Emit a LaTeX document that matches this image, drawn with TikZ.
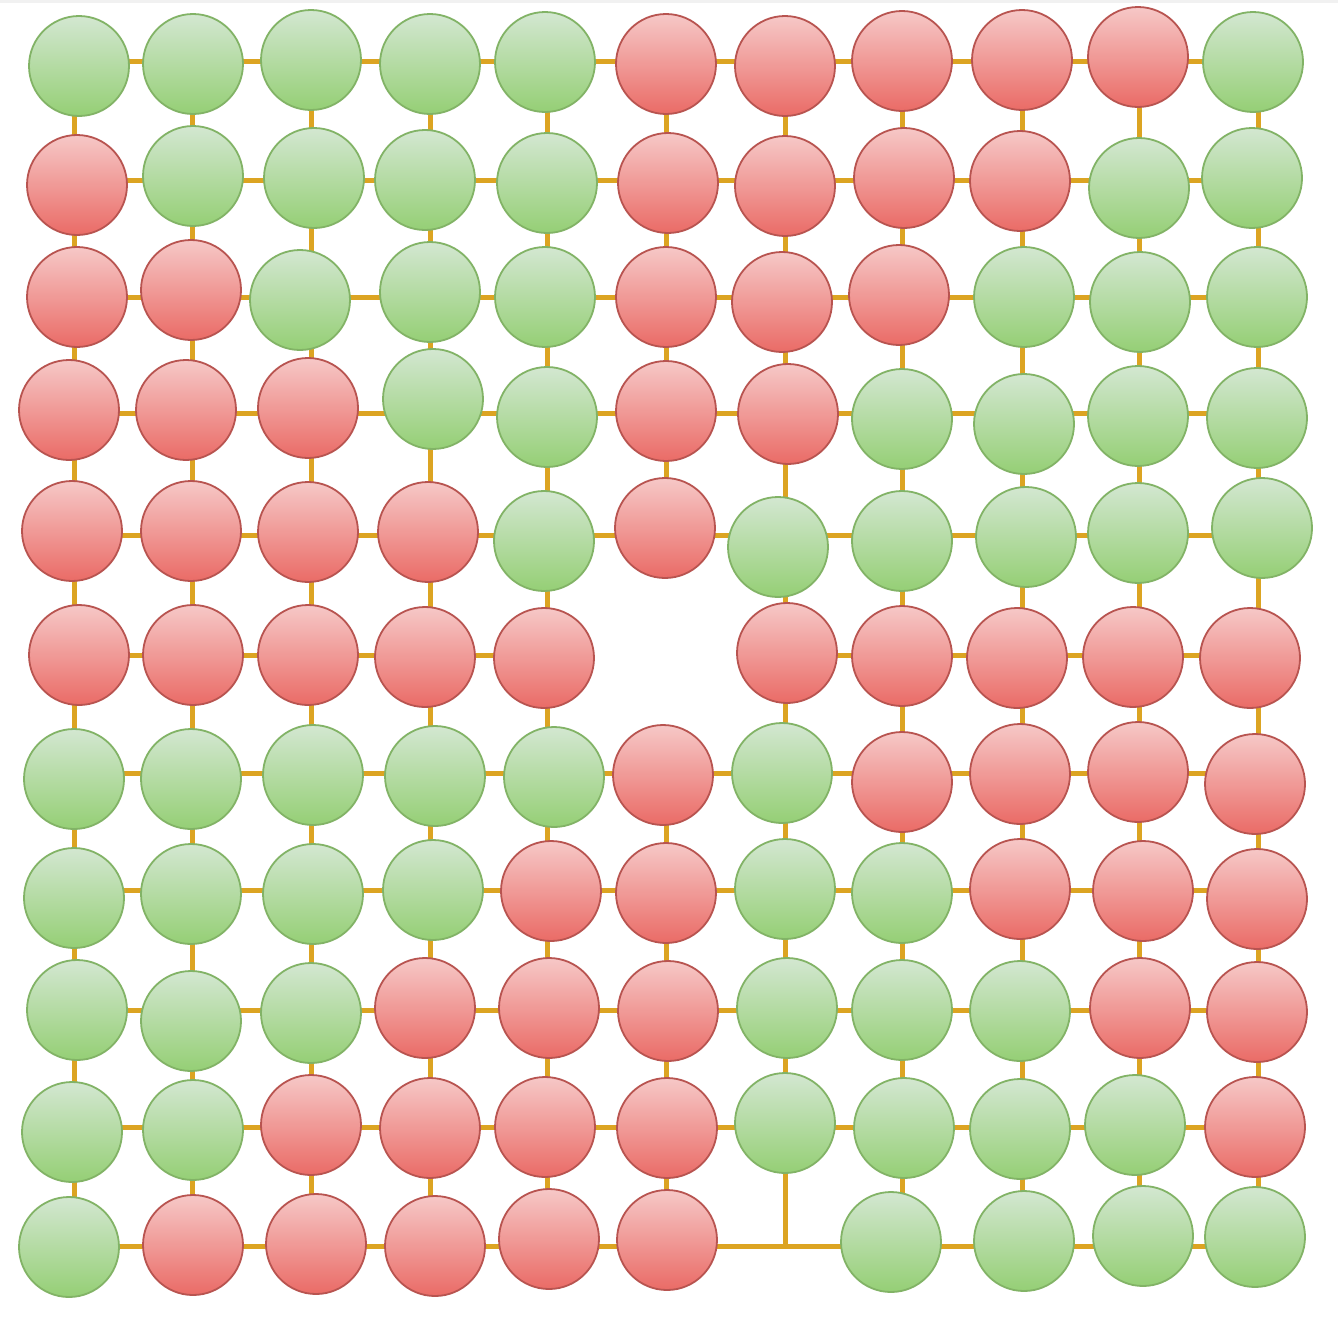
\documentclass[tikz,border=0pt]{standalone}
\usetikzlibrary{backgrounds}
\definecolor{gtop}{HTML}{D3E7D1}
\definecolor{gbot}{HTML}{95CF75}
\definecolor{gline}{HTML}{82B366}
\definecolor{rtop}{HTML}{F6C8C7}
\definecolor{rbot}{HTML}{EA6B66}
\definecolor{rline}{HTML}{B85450}
\definecolor{wire}{HTML}{DCA422}
\definecolor{band}{HTML}{F1F1F1}
\tikzset{
  ball/.style={circle,inner sep=0pt,minimum size=100pt,line width=1.8pt},
  g ball/.style={ball,draw=gline,top color=gtop,bottom color=gbot},
  r ball/.style={ball,draw=rline,top color=rtop,bottom color=rbot},
  wire/.style={draw=wire,line width=5pt}
}
\begin{document}
\begin{tikzpicture}[x=1pt,y=-1pt]
\useasboundingbox (0,0) rectangle (1338,1318);
% grid lines positions
\foreach \yy [count=\i] in {61,180,297,413,535,655,773,890,1010,1127,1246}
  \coordinate (R\i) at (0,\yy);
\foreach \xx [count=\i] in {74,192,311,430,547,666,785,902,1022,1139,1258}
  \coordinate (C\i) at (\xx,0);
% balls
\foreach \r/\c/\x/\y/\t in {
 1/1/79/66/g, 1/2/193/64/g, 1/3/311/60/g, 1/4/430/64/g, 1/5/545/62/g, 1/6/666/64/r, 1/7/785/66/r, 1/8/902/61/r, 1/9/1022/60/r, 1/10/1138/57/r, 1/11/1253/62/g,
 2/1/77/185/r, 2/2/193/176/g, 2/3/314/178/g, 2/4/425/180/g, 2/5/547/183/g, 2/6/668/183/r, 2/7/785/186/r, 2/8/904/178/r, 2/9/1020/181/r, 2/10/1139/188/g, 2/11/1252/178/g,
 3/1/77/297/r, 3/2/191/290/r, 3/3/300/300/g, 3/4/430/292/g, 3/5/545/297/g, 3/6/666/297/r, 3/7/782/302/r, 3/8/899/295/r, 3/9/1024/297/g, 3/10/1140/302/g, 3/11/1257/297/g,
 4/1/69/410/r, 4/2/186/410/r, 4/3/308/408/r, 4/4/433/399/g, 4/5/547/417/g, 4/6/666/411/r, 4/7/788/414/r, 4/8/902/419/g, 4/9/1024/424/g, 4/10/1138/416/g, 4/11/1257/418/g,
 5/1/72/531/r, 5/2/191/531/r, 5/3/308/532/r, 5/4/428/532/r, 5/5/544/541/g, 5/6/665/528/r, 5/7/778/547/g, 5/8/902/541/g, 5/9/1026/537/g, 5/10/1138/533/g, 5/11/1262/528/g,
 6/1/79/655/r, 6/2/193/655/r, 6/3/308/655/r, 6/4/425/657/r, 6/5/544/658/r, 6/7/787/653/r, 6/8/902/656/r, 6/9/1017/658/r, 6/10/1133/657/r, 6/11/1250/658/r,
 7/1/74/779/g, 7/2/191/779/g, 7/3/313/775/g, 7/4/435/776/g, 7/5/554/777/g, 7/6/663/775/r, 7/7/782/773/g, 7/8/902/782/r, 7/9/1020/774/r, 7/10/1138/772/r, 7/11/1255/784/r,
 8/1/74/898/g, 8/2/191/894/g, 8/3/313/894/g, 8/4/433/890/g, 8/5/551/891/r, 8/6/666/893/r, 8/7/785/889/g, 8/8/902/893/g, 8/9/1020/889/r, 8/10/1143/891/r, 8/11/1257/899/r,
 9/1/77/1010/g, 9/2/191/1021/g, 9/3/311/1013/g, 9/4/425/1008/r, 9/5/549/1008/r, 9/6/668/1011/r, 9/7/787/1008/g, 9/8/902/1010/g, 9/9/1020/1011/g, 9/10/1140/1008/r, 9/11/1257/1012/r,
 10/1/72/1132/g, 10/2/193/1130/g, 10/3/311/1125/r, 10/4/430/1128/r, 10/5/545/1127/r, 10/6/667/1128/r, 10/7/785/1123/g, 10/8/904/1128/g, 10/9/1020/1129/g, 10/10/1135/1125/g, 10/11/1255/1127/r,
 11/1/69/1247/g, 11/2/193/1245/r, 11/3/316/1244/r, 11/4/435/1246/r, 11/5/549/1239/r, 11/6/667/1240/r, 11/8/891/1242/g, 11/9/1024/1241/g, 11/10/1143/1236/g, 11/11/1255/1237/g}
  \node[\t\space ball] (n-\r-\c) at (\x,\y) {};
% junction where a ball is absent
\coordinate (n-11-7) at (785,1246);
% connectors (behind the balls)
\begin{pgfonlayer}{background}
\fill[white] (0,0) rectangle (1338,1318);
\fill[band] (0,0) rectangle (1338,3);
\foreach \r in {1,...,11}
  \foreach \c in {1,...,10} {
    \pgfmathtruncatemacro\d{\c+1}
    \pgfmathtruncatemacro\skipit{(\r==6)&&((\c==5)||(\c==6))}
    \ifnum\skipit=0
      \draw[wire] (n-\r-\c |- R\r) -- (n-\r-\d |- R\r);
    \fi
  }
\foreach \c in {1,...,11}
  \foreach \r in {1,...,10} {
    \pgfmathtruncatemacro\s{\r+1}
    \pgfmathtruncatemacro\skipit{(\c==6)&&((\r==5)||(\r==6))}
    \ifnum\skipit=0
      \draw[wire] (n-\r-\c -| C\c) -- (n-\s-\c -| C\c);
    \fi
  }
\end{pgfonlayer}
\end{tikzpicture}
\end{document}
